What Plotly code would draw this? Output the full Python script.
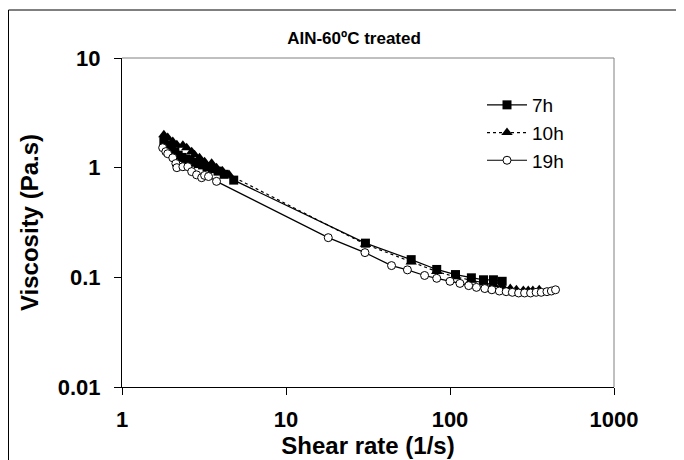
import plotly.graph_objects as go

# ---- data ----
x_7h = [1.80, 1.90, 2.00, 2.10, 2.20, 2.32, 2.45, 2.60, 2.75, 2.92, 3.10, 3.30, 3.55, 3.85, 4.20, 4.80,
        30.5, 58, 83, 108, 135, 160, 184, 208]
y_7h = [1.75, 1.62, 1.50, 1.40, 1.30, 1.24, 1.20, 1.15, 1.12, 1.09, 1.06, 1.02, 0.98, 0.93, 0.87, 0.77,
        0.205, 0.145, 0.118, 0.106, 0.099, 0.095, 0.095, 0.092]

x_10h = [1.80, 1.90, 2.04, 2.16, 2.35, 2.48, 2.66, 2.77, 2.97, 3.19, 3.52, 3.77, 4.10, 4.50,
         30.5, 58, 83, 108, 135, 160, 184, 208, 233, 254, 280, 300, 320, 350]
y_10h = [2.00, 1.88, 1.73, 1.62, 1.60, 1.52, 1.40, 1.31, 1.23, 1.13, 1.10, 1.00, 0.93, 0.86,
         0.200, 0.138, 0.113, 0.101, 0.094, 0.089, 0.086, 0.083, 0.079, 0.077, 0.076, 0.076, 0.076, 0.077]

x_19h = [1.77, 1.85, 1.90, 2.04, 2.13, 2.16, 2.35, 2.52, 2.66, 2.85, 3.06, 3.19, 3.37, 3.77,
         18.1, 30.3, 44, 55, 70, 83, 100, 115, 130, 145, 163, 180, 200, 220, 240, 262, 285,
         310, 335, 360, 390, 415, 440]
y_19h = [1.52, 1.40, 1.34, 1.23, 1.09, 1.00, 1.02, 1.02, 0.92, 0.86, 0.81, 0.85, 0.83, 0.75,
         0.23, 0.168, 0.128, 0.117, 0.104, 0.098, 0.092, 0.088, 0.084, 0.081, 0.079, 0.077, 0.075,
         0.074, 0.073, 0.072, 0.072, 0.072, 0.073, 0.073, 0.074, 0.075, 0.077]

x_ticks = [1, 10, 100, 1000]
x_ticklabels = ["1", "10", "100", "1000"]
y_ticks = [0.01, 0.1, 1, 10]
y_ticklabels = ["0.01", "0.1", "1", "10"]

FONT = "Arial, Liberation Sans, Helvetica, sans-serif"

fig = go.Figure()
fig.add_trace(go.Scatter(
    x=x_10h, y=y_10h, name="10h", mode="lines+markers", legendrank=2,
    line=dict(color="black", width=1.2, dash="dot"),
    marker=dict(symbol="triangle-up", size=10, color="black"),
))
fig.add_trace(go.Scatter(
    x=x_7h, y=y_7h, name="7h", mode="lines+markers", legendrank=1,
    line=dict(color="black", width=1.2),
    marker=dict(symbol="square", size=9, color="black"),
))
fig.add_trace(go.Scatter(
    x=x_19h, y=y_19h, name="19h", mode="lines+markers", legendrank=3,
    line=dict(color="black", width=1.2),
    marker=dict(symbol="circle", size=8, color="white", line=dict(color="black", width=1)),
))

W, H = 684, 460
L, R, T, B = 114, 78, 50, 81
pw, ph = W - L - R, H - T - B

fig.update_layout(
    width=W, height=H,
    margin=dict(l=L, r=R, t=T, b=B, autoexpand=False),
    paper_bgcolor="white", plot_bgcolor="white",
    font=dict(family=FONT, color="black"),
    title=dict(text="<b>AIN-60ºC treated</b>", x=346 / W, xref="container", xanchor="center",
               y=1 - 30 / H, yref="container", yanchor="middle",
               font=dict(size=17, family=FONT, color="black")),
    legend=dict(x=(474 - L) / pw, y=1 - (78 - T) / ph, xanchor="left", yanchor="top",
                font=dict(size=19, family=FONT), bgcolor="rgba(0,0,0,0)", itemwidth=40,
                tracegroupgap=0),
    showlegend=True,
)

fig.update_xaxes(
    type="log", range=[0, 3], automargin=False,
    tickvals=x_ticks, ticktext=["<b>%s</b>" % t for t in x_ticklabels],
    ticks="outside", ticklen=7, tickcolor="black", tickwidth=1, ticklabelstandoff=6,
    tickfont=dict(size=22, family=FONT),
    showline=True, linecolor="black", linewidth=1, mirror=False,
    showgrid=False, zeroline=False,
    title=dict(text="<b>Shear rate (1/s)</b>", font=dict(size=24, family=FONT), standoff=0),
)
fig.update_yaxes(
    type="log", range=[-2, 1], automargin=False,
    tickvals=y_ticks, ticktext=["<b>%s</b>" % t for t in y_ticklabels],
    ticks="outside", ticklen=7, tickcolor="black", tickwidth=1, ticklabelstandoff=9,
    tickfont=dict(size=22, family=FONT),
    showline=True, linecolor="black", linewidth=1, mirror=False,
    showgrid=False, zeroline=False,
    title=dict(text="<b>Viscosity (Pa.s)</b>", font=dict(size=24, family=FONT), standoff=12),
)

# plot-area frame (top & right grey) and outer chart border
fig.add_shape(type="line", xref="paper", yref="paper", x0=0, x1=1, y0=1, y1=1,
              line=dict(color="#808080", width=1))
fig.add_shape(type="line", xref="paper", yref="paper", x0=1, x1=1, y0=0, y1=1,
              line=dict(color="#808080", width=1))
fig.add_shape(type="rect", xref="paper", yref="paper",
              x0=(0.5 - L) / pw, x1=(W + 20 - L) / pw,
              y0=-(H + 20 - T - ph) / ph, y1=1 + (T - 2) / ph,
              line=dict(color="black", width=1), fillcolor="rgba(0,0,0,0)", layer="below")

fig.write_html("out.html")
